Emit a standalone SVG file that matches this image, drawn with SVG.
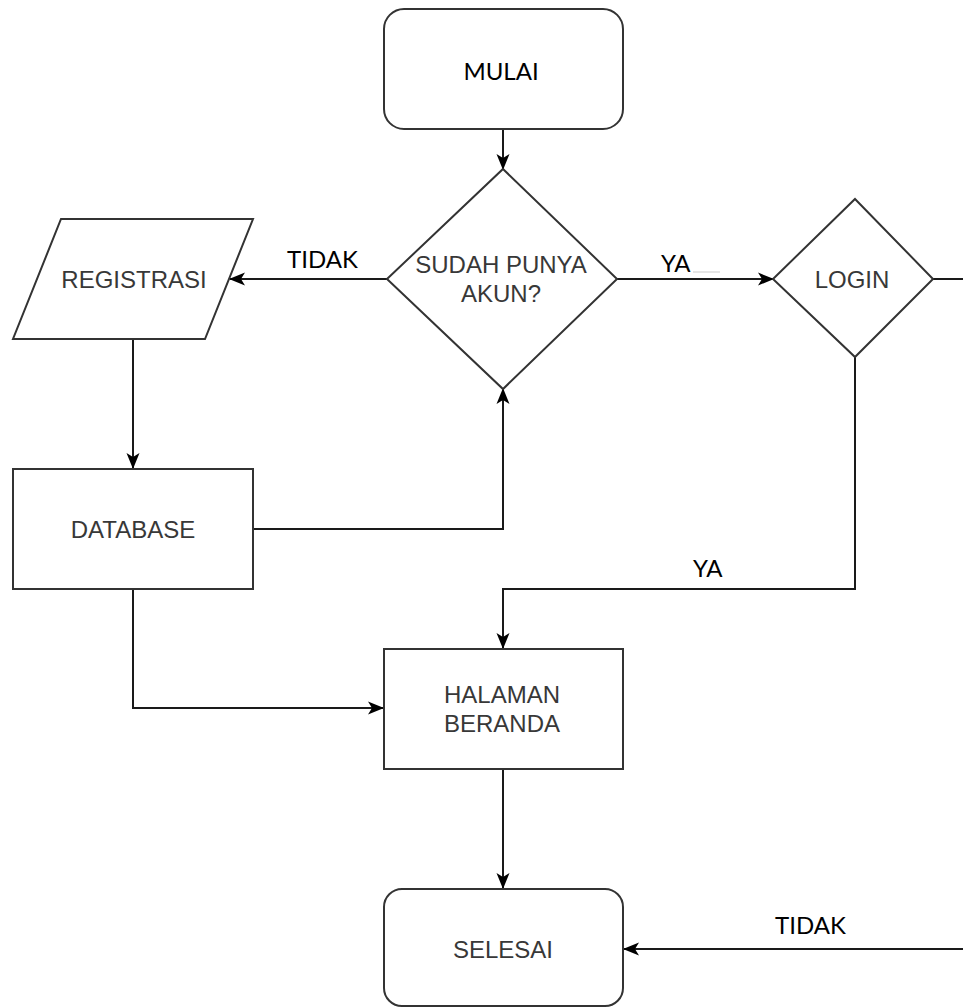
<svg xmlns="http://www.w3.org/2000/svg" width="963" height="1008" viewBox="0 0 963 1008">
<defs>
<style>
.shape{fill:#fff;stroke:#333;stroke-width:2}
.edge{fill:none;stroke:#1a1a1a;stroke-width:2}
.nt{font-family:"Liberation Sans",Arial,sans-serif;font-size:24px;fill:#383838;text-anchor:middle}
.lb{font-family:Lato,"Open Sans",sans-serif;font-size:24px;fill:#000}
</style>
<marker id="arr" markerUnits="userSpaceOnUse" markerWidth="16" markerHeight="16" viewBox="0 0 16 16" refX="15" refY="8" orient="auto">
<path d="M0,1.5 L16,8 L0,14.5 L4,8 z" fill="#000"/>
</marker>
</defs>
<rect width="963" height="1008" fill="#fff"/>

<g id="connectors">
<path class="edge" d="M503,129 V169" marker-end="url(#arr)"/>
<path class="edge" d="M387,279 H230" marker-end="url(#arr)"/>
<path class="edge" d="M617,279 H773" marker-end="url(#arr)"/>
<path class="edge" d="M933,279 H963"/>
<path class="edge" d="M133,339 V468" marker-end="url(#arr)"/>
<path class="edge" d="M253,529 H503 V389" marker-end="url(#arr)"/>
<path class="edge" d="M133,589 V708 H383" marker-end="url(#arr)"/>
<path class="edge" d="M855,357 V589 H503 V648" marker-end="url(#arr)"/>
<path class="edge" d="M503,769 V888" marker-end="url(#arr)"/>
<path class="edge" d="M963,949 H624" marker-end="url(#arr)"/>
<line x1="693" y1="272" x2="720" y2="272" stroke="#ddd" stroke-width="1.5"/>
<text class="lb" x="287" y="268">TIDAK</text>
<text class="lb" x="661" y="272">YA</text>
<text class="lb" x="693" y="577">YA</text>
<text class="lb" x="775" y="934">TIDAK</text>
</g>

<g id="mulai">
<rect class="shape" x="384" y="9" width="239" height="120" rx="20"/>
<text class="lb" x="501" y="80" text-anchor="middle" font-size="25">MULAI</text>
</g>

<g id="sudah-punya-akun">
<polygon class="shape" points="503,169 617,279 503,389 387,279"/>
<text class="nt" x="501" y="273" font-size="22">SUDAH PUNYA</text>
<text class="nt" x="501" y="302" font-size="22">AKUN?</text>
</g>

<g id="registrasi">
<polygon class="shape" points="61,219 253,219 205,339 13,339"/>
<text class="nt" x="134" y="288">REGISTRASI</text>
</g>

<g id="login">
<polygon class="shape" points="855,199 933,279 855,357 773,279"/>
<text class="nt" x="852" y="288">LOGIN</text>
</g>

<g id="database">
<rect class="shape" x="13" y="469" width="240" height="120"/>
<text class="nt" x="133" y="538">DATABASE</text>
</g>

<g id="halaman-beranda">
<rect class="shape" x="384" y="649" width="239" height="120"/>
<text class="nt" x="502" y="703">HALAMAN</text>
<text class="nt" x="502" y="732">BERANDA</text>
</g>

<g id="selesai">
<rect class="shape" x="384" y="889" width="239" height="117" rx="18"/>
<text class="nt" x="503" y="958">SELESAI</text>
</g>
</svg>
